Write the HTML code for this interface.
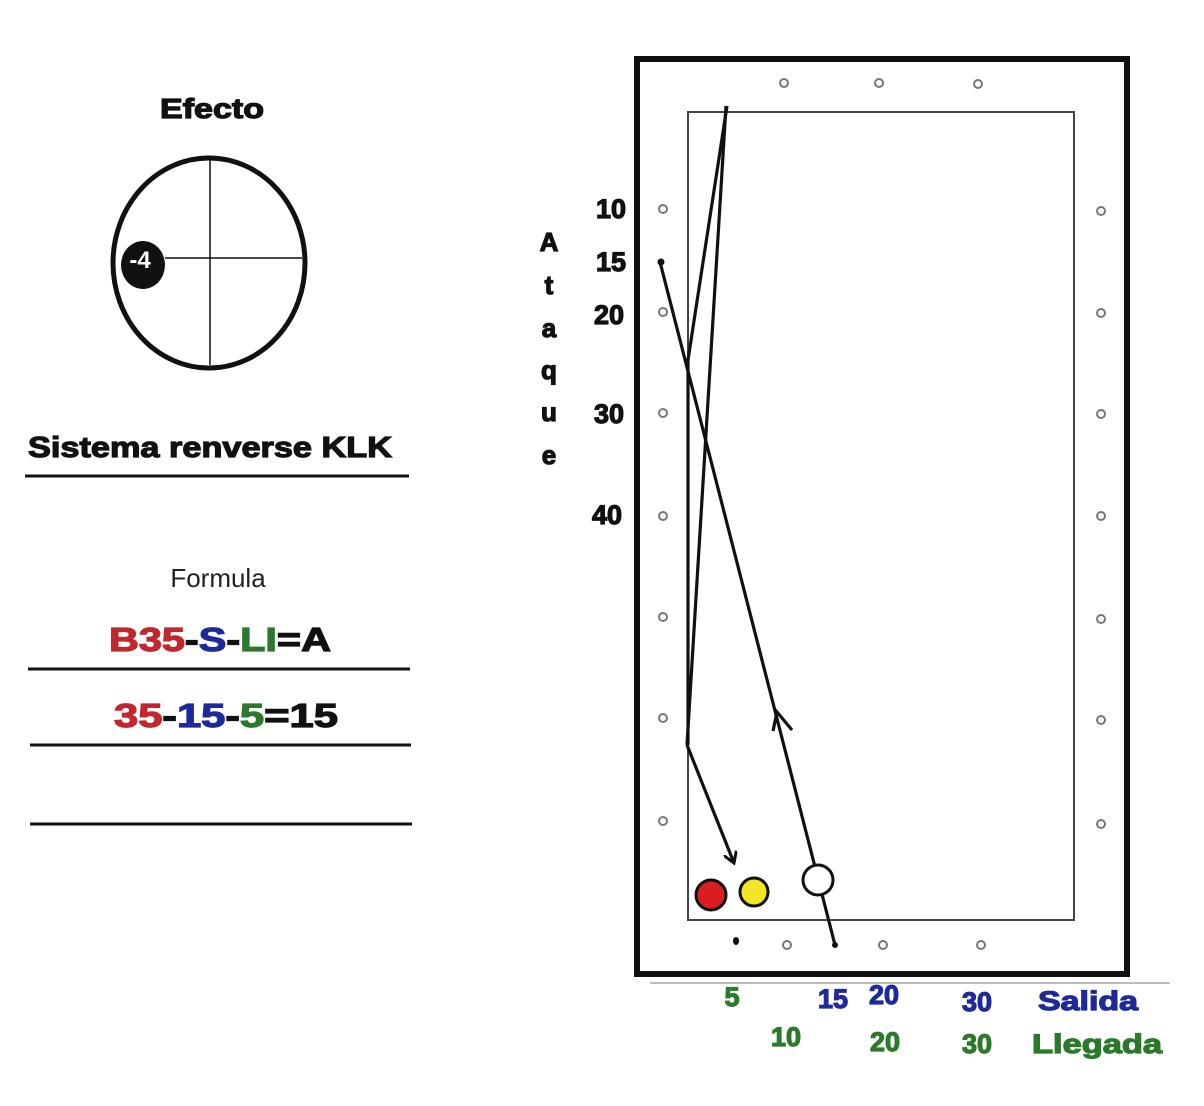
<!DOCTYPE html>
<html><head><meta charset="utf-8"><style>body{margin:0;background:#fff}svg{display:block}text{font-family:"Liberation Sans",sans-serif}.h{stroke-width:1.2px;paint-order:stroke}</style></head><body>
<svg width="1204" height="1106" viewBox="0 0 1204 1106" xmlns="http://www.w3.org/2000/svg">
<defs><marker id="a" markerWidth="14" markerHeight="14" refX="11" refY="7" orient="auto" markerUnits="userSpaceOnUse"><path d="M0,0 L11,7 L0,14" fill="none" stroke="#111" stroke-width="3"/></marker></defs>
<text x="160" y="118" font-size="28" font-weight="bold" fill="#111" stroke="#111" class="h" textLength="104" lengthAdjust="spacingAndGlyphs">Efecto</text>
<ellipse cx="209" cy="263" rx="96" ry="105" fill="none" stroke="#111" stroke-width="5"/>
<line x1="210" y1="160" x2="210" y2="365" stroke="#111" stroke-width="1.5"/>
<line x1="165" y1="258" x2="302" y2="258" stroke="#111" stroke-width="1.5"/>
<ellipse cx="143" cy="265" rx="22" ry="24" fill="#111"/>
<text x="140" y="268" font-size="24" font-weight="bold" text-anchor="middle" fill="#fff">-4</text>
<text x="28" y="457" font-size="29" font-weight="bold" fill="#111" stroke="#111" class="h" textLength="364" lengthAdjust="spacingAndGlyphs">Sistema renverse KLK</text>
<line x1="25" y1="476" x2="409" y2="476" stroke="#111" stroke-width="3"/>
<text x="218" y="587" font-size="26" text-anchor="middle" fill="#222">Formula</text>
<text x="109" y="651" font-size="33" font-weight="bold" class="h" textLength="222" lengthAdjust="spacingAndGlyphs"><tspan fill="#c1272d" stroke="#c1272d">B35</tspan><tspan fill="#111" stroke="#111">-</tspan><tspan fill="#1f2a9a" stroke="#1f2a9a">S</tspan><tspan fill="#111" stroke="#111">-</tspan><tspan fill="#2a7a2a" stroke="#2a7a2a">LI</tspan><tspan fill="#111" stroke="#111">=A</tspan></text>
<line x1="28" y1="669" x2="410" y2="669" stroke="#111" stroke-width="3"/>
<text x="114" y="727" font-size="33" font-weight="bold" class="h" textLength="224" lengthAdjust="spacingAndGlyphs"><tspan fill="#c1272d" stroke="#c1272d">35</tspan><tspan fill="#111" stroke="#111">-</tspan><tspan fill="#1f2a9a" stroke="#1f2a9a">15</tspan><tspan fill="#111" stroke="#111">-</tspan><tspan fill="#2a7a2a" stroke="#2a7a2a">5</tspan><tspan fill="#111" stroke="#111">=15</tspan></text>
<line x1="30" y1="745" x2="411" y2="745" stroke="#111" stroke-width="3"/>
<line x1="30" y1="824" x2="412" y2="824" stroke="#111" stroke-width="3"/>
<g font-size="26" font-weight="bold" fill="#111" stroke="#111" class="h" text-anchor="middle">
<text x="549" y="251">A</text><text x="549" y="294">t</text><text x="549" y="337">a</text><text x="549" y="379">q</text><text x="549" y="421">u</text><text x="549" y="464">e</text>
</g>
<g font-size="27" font-weight="bold" fill="#111" stroke="#111" class="h" text-anchor="end">
<text x="626" y="218">10</text><text x="626" y="271">15</text><text x="624" y="324">20</text><text x="624" y="423">30</text><text x="622" y="524">40</text>
</g>
<rect x="637" y="59" width="490" height="915" fill="#fff" stroke="#111" stroke-width="6"/>
<rect x="688" y="112" width="386" height="808" fill="#fff" stroke="#444" stroke-width="2"/>
<g fill="#fff" stroke="#777" stroke-width="2">
<circle cx="784" cy="83" r="4"/><circle cx="879" cy="83" r="4"/><circle cx="978" cy="84" r="4"/>
<circle cx="787" cy="945" r="4"/><circle cx="883" cy="945" r="4"/><circle cx="981" cy="945" r="4"/>
<circle cx="663" cy="209" r="4"/><circle cx="663" cy="312" r="4"/><circle cx="663" cy="413" r="4"/><circle cx="663" cy="516" r="4"/><circle cx="663" cy="617" r="4"/><circle cx="663" cy="718" r="4"/><circle cx="663" cy="821" r="4"/>
<circle cx="1101" cy="211" r="4"/><circle cx="1101" cy="313" r="4"/><circle cx="1101" cy="414" r="4"/><circle cx="1101" cy="516" r="4"/><circle cx="1101" cy="619" r="4"/><circle cx="1101" cy="720" r="4"/><circle cx="1101" cy="824" r="4"/>
</g>
<g stroke="#111" stroke-width="3.2" fill="none">
<line x1="835" y1="945" x2="660" y2="262"/>
<line x1="726" y1="106" x2="687" y2="745"/>
<polyline points="727,106 688,360 688,745"/>
<line x1="687" y1="745" x2="734" y2="863" marker-end="url(#a)"/>
<path d="M773,731 L777,712 L792,730"/>
</g>
<circle cx="661" cy="262" r="3.5" fill="#111"/><circle cx="835" cy="945" r="3" fill="#111"/>
<ellipse cx="736" cy="941" rx="3" ry="4" fill="#111"/>
<circle cx="711" cy="895" r="15" fill="#d81e1e" stroke="#111" stroke-width="3"/>
<circle cx="754" cy="892" r="14" fill="#f4e525" stroke="#111" stroke-width="3"/>
<circle cx="818" cy="880" r="15" fill="#fff" stroke="#111" stroke-width="3"/>
<line x1="650" y1="983" x2="1170" y2="983" stroke="#bbb" stroke-width="2"/>
<g font-size="27" font-weight="bold" text-anchor="middle" class="h">
<text x="732" y="1006" fill="#2a7a2a" stroke="#2a7a2a">5</text>
<text x="833" y="1008" fill="#1f2a9a" stroke="#1f2a9a">15</text>
<text x="884" y="1004" fill="#1f2a9a" stroke="#1f2a9a">20</text>
<text x="977" y="1011" fill="#1f2a9a" stroke="#1f2a9a">30</text>
<text x="1088" y="1010" fill="#1f2a9a" stroke="#1f2a9a" textLength="100" lengthAdjust="spacingAndGlyphs">Salida</text>
<text x="786" y="1046" fill="#2a7a2a" stroke="#2a7a2a">10</text>
<text x="885" y="1051" fill="#2a7a2a" stroke="#2a7a2a">20</text>
<text x="977" y="1053" fill="#2a7a2a" stroke="#2a7a2a">30</text>
<text x="1097" y="1053" fill="#2a7a2a" stroke="#2a7a2a" textLength="130" lengthAdjust="spacingAndGlyphs">Llegada</text>
</g>
</svg>
</body></html>
